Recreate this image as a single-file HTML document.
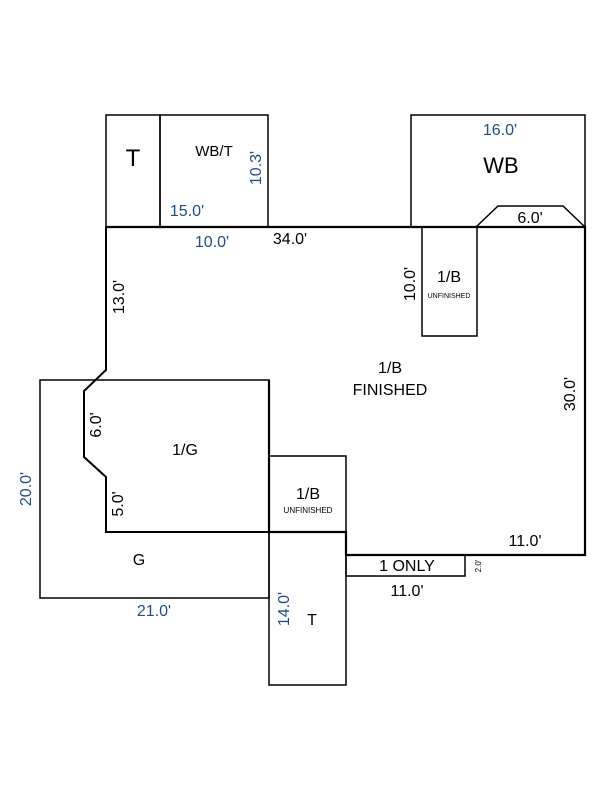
<!DOCTYPE html>
<html><head><meta charset="utf-8"><style>body{margin:0;background:#fff}svg{display:block}</style></head><body>
<svg width="600" height="800" viewBox="0 0 600 800" xmlns="http://www.w3.org/2000/svg" font-family="Liberation Sans, Arial, sans-serif">
<g fill="none" stroke="#000" stroke-width="1.5">
<rect x="106" y="115" width="54" height="112"/>
<rect x="160" y="115" width="108" height="112"/>
<rect x="411" y="115" width="174" height="112"/>
<polyline points="476,227 498,206 563,206 585,227"/>
<rect x="422" y="227" width="55" height="109"/>
<rect x="40" y="380" width="229" height="218"/>
<rect x="269" y="456" width="77" height="76"/>
<rect x="269" y="532" width="77" height="153"/>
<rect x="346" y="555" width="119" height="21"/>
</g>
<polyline fill="none" stroke="#000" stroke-width="2.2" points="106,227 585,227 585,555 346,555 346,532 269,532 269,380"/>
<polyline fill="none" stroke="#000" stroke-width="2" points="106,227 106,370 84,391 84,457 106,477 106,532 269,532"/>
<g font-size="16" fill="#000" text-anchor="middle">
<text x="133" y="166" font-size="24">T</text>
<text x="214" y="156" font-size="15">WB/T</text>
<text x="501" y="173" font-size="22">WB</text>
<text x="530" y="223">6.0'</text>
<text x="290" y="244">34.0'</text>
<text x="449" y="282">1/B</text>
<text x="449" y="298" font-size="7">UNFINISHED</text>
<text x="390" y="373">1/B</text>
<text x="390" y="395">FINISHED</text>
<text x="185" y="455">1/G</text>
<text x="308" y="499">1/B</text>
<text x="308" y="513" font-size="8">UNFINISHED</text>
<text x="139" y="565">G</text>
<text x="525" y="546">11.0'</text>
<text x="407" y="571">1 ONLY</text>
<text x="407" y="596">11.0'</text>
<text x="312" y="625">T</text>
</g>
<g font-size="16" fill="#1f4e85" text-anchor="middle">
<text x="500" y="135">16.0'</text>
<text x="187" y="216">15.0'</text>
<text x="212" y="247">10.0'</text>
<text x="154" y="616">21.0'</text>
<text transform="translate(261,168) rotate(-90)">10.3'</text>
<text transform="translate(31,489) rotate(-90)">20.0'</text>
<text transform="translate(289,609) rotate(-90)">14.0'</text>
</g>
<g font-size="16" fill="#000" text-anchor="middle">
<text transform="translate(124,297) rotate(-90)">13.0'</text>
<text transform="translate(415,284) rotate(-90)">10.0'</text>
<text transform="translate(575,394) rotate(-90)">30.0'</text>
<text transform="translate(101,425) rotate(-90)">6.0'</text>
<text transform="translate(123,504) rotate(-90)">5.0'</text>
<text transform="translate(481,566) rotate(-90)" font-size="8">2.0'</text>
</g>
</svg>
</body></html>
